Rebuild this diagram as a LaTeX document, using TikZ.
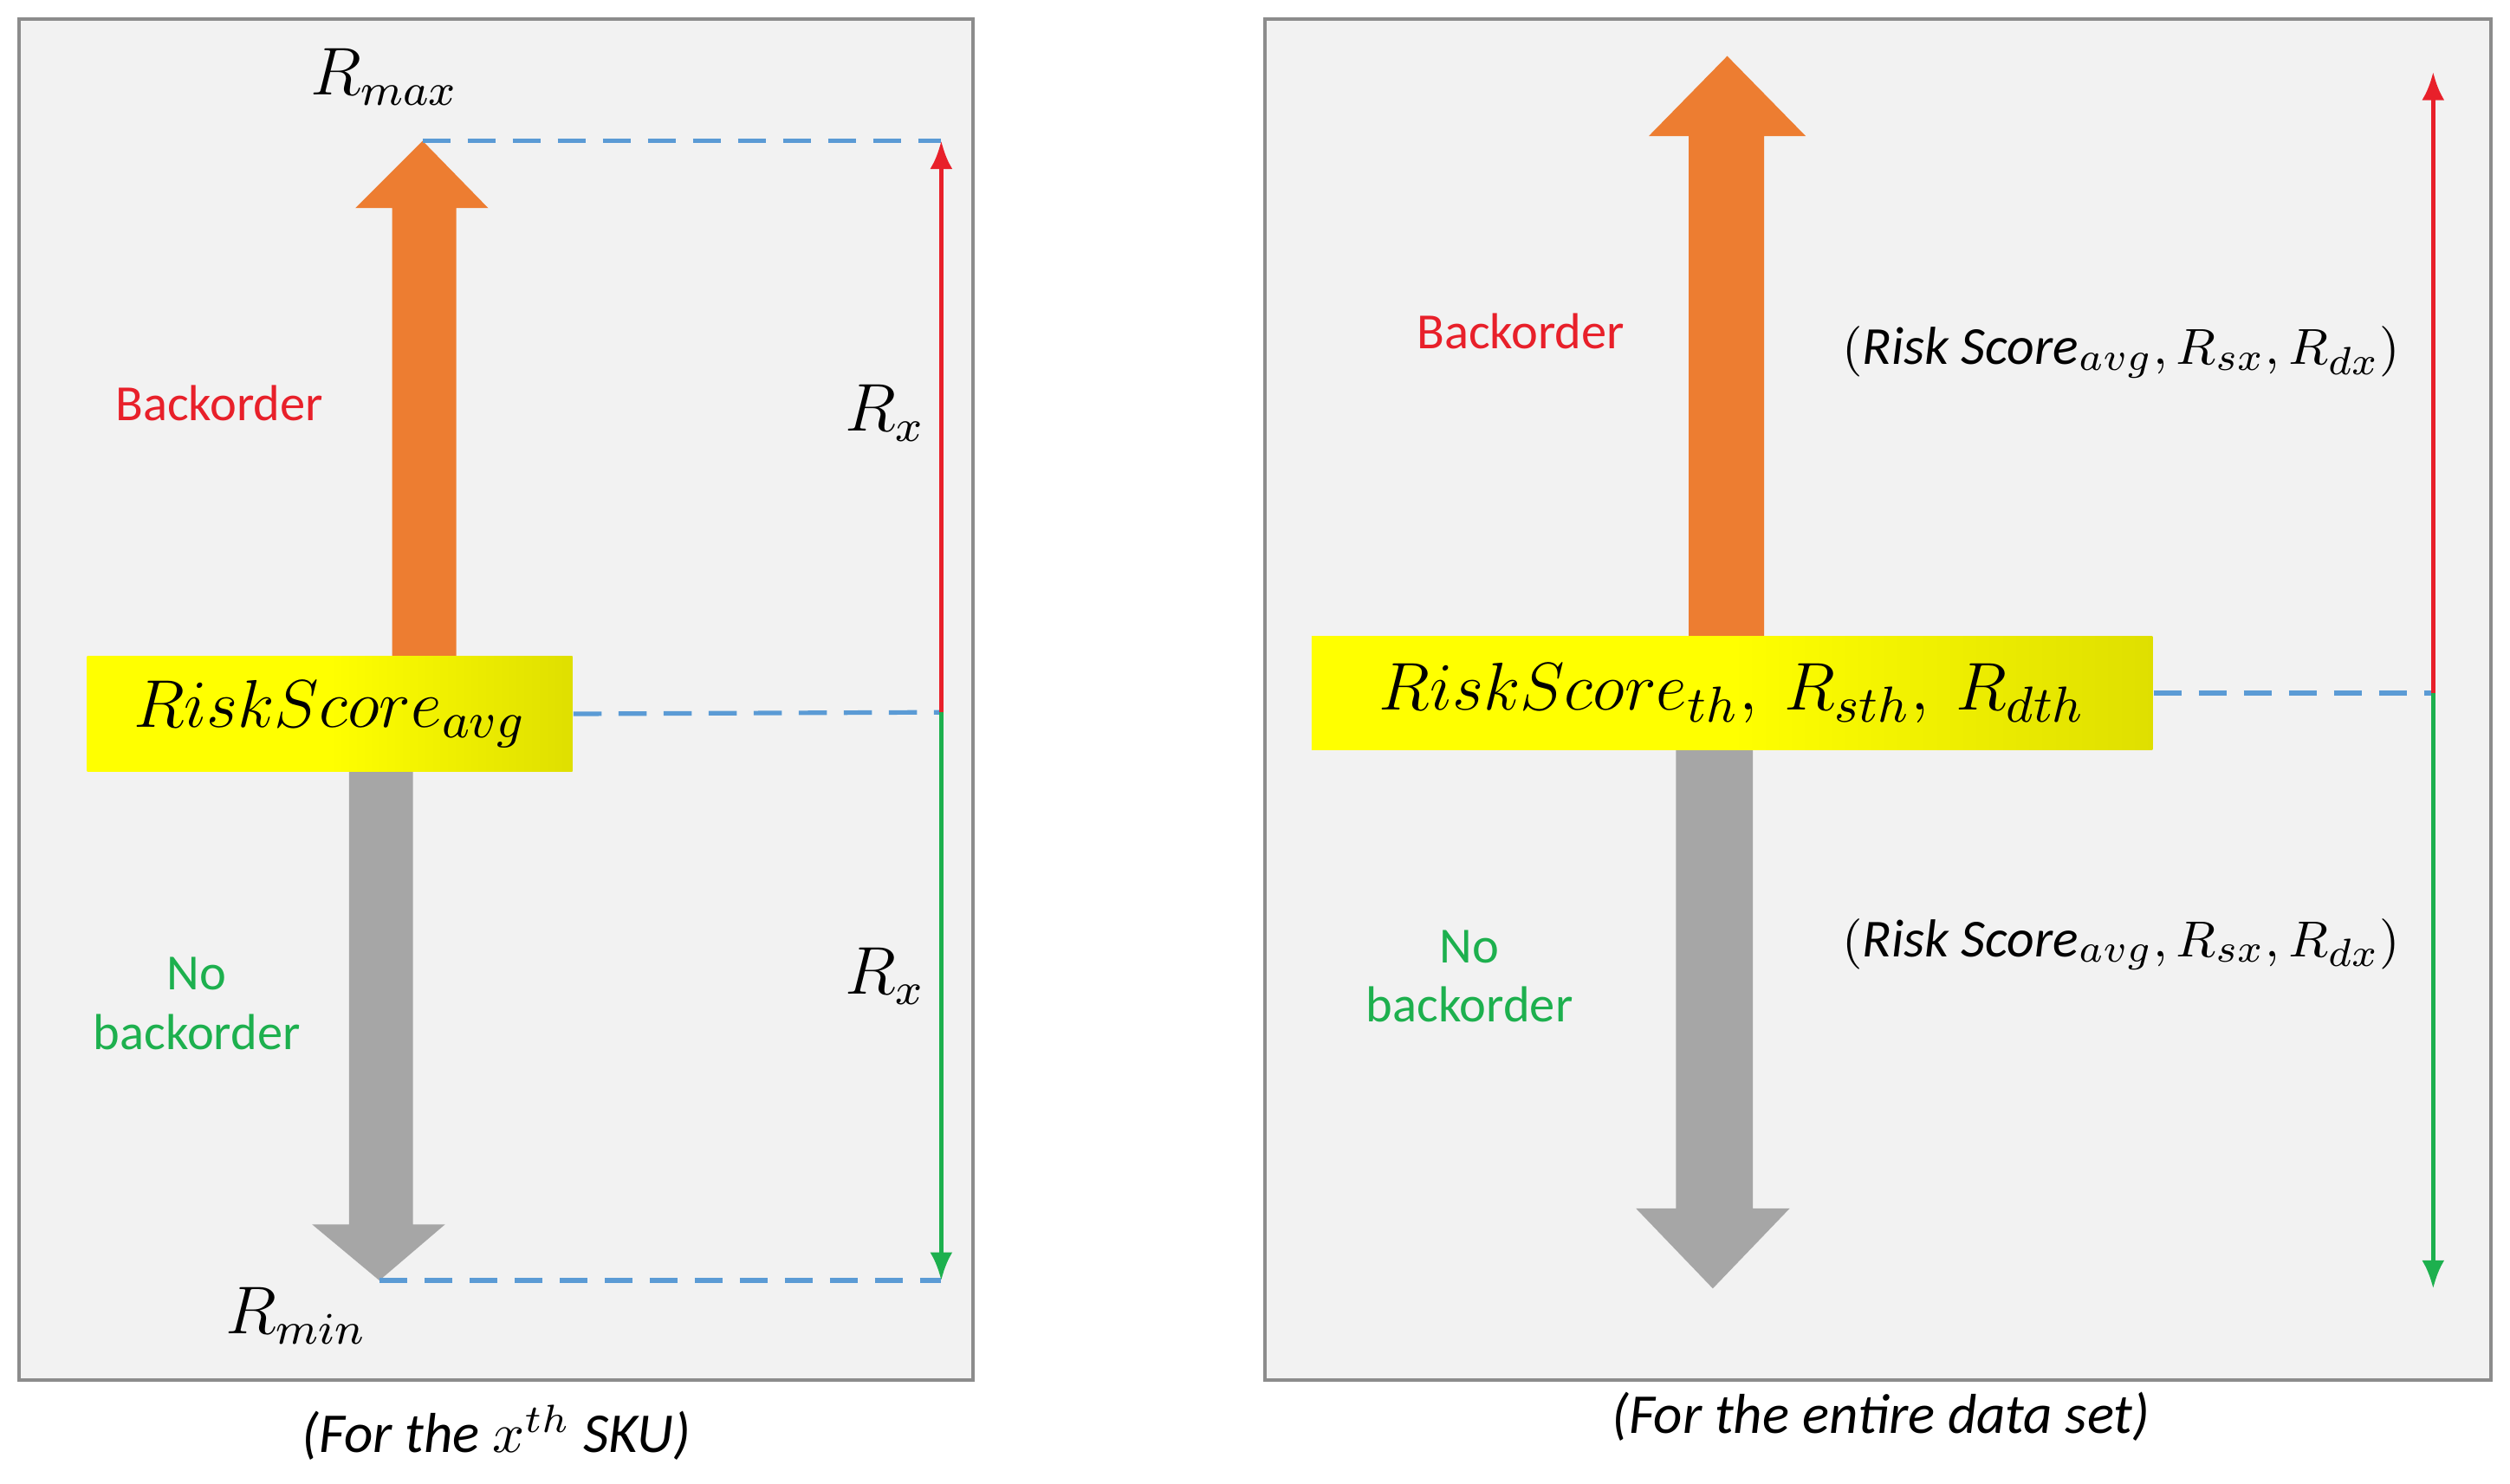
\documentclass[tikz,border=0pt]{standalone}
\usepackage{fontspec}
\setmainfont{Carlito}
\usetikzlibrary{positioning,arrows.meta}
\definecolor{orng}{HTML}{ED7D31}
\definecolor{gry}{HTML}{A6A6A6}
\definecolor{dashblue}{HTML}{5B9BD5}
\definecolor{redln}{HTML}{E8202A}
\definecolor{grnln}{HTML}{1DB04E}
\tikzset{
	panel/.style={draw=black!45, fill=black!5, line width=.06em},
	dashln/.style={dashed, dashblue, line width=.08em, dash pattern=on 5pt off 3pt},
	scorebox/.style={left color=yellow, right color=yellow!75!olive, middle color=yellow, inner sep=0pt, font=\fontsize{12.5}{15}\selectfont},
	lbl/.style={font=\fontsize{9}{10.5}\selectfont, align=center},
	mlbl/.style={font=\fontsize{12}{14}\selectfont},
}
\begin{document}
\begin{tikzpicture}[x=0.01cm, y=-0.01cm]
			\useasboundingbox (0,0) rectangle (1568,927);
			% panels
			\draw[panel] (12,12) rectangle (608,862);
			\draw[panel] (790,12) rectangle (1556,862);
			\node[lbl, font=\fontsize{10}{12}\selectfont\itshape] (capL) at (310,895) {(For the $x^{th}$ SKU)};
			\node[lbl, font=\fontsize{10}{12}\selectfont\itshape] (capR) at (1175,885) {(For the entire data set)};

			% left big arrows
			\fill[orng] (245,410) -- (245,130) -- (222,130) -- (264,88) -- (305,130) -- (285,130) -- (285,410) -- cycle;
			\fill[gry] (218,480) -- (218,765) -- (195,765) -- (237,800) -- (278,765) -- (258,765) -- (258,480) -- cycle;
			\node[scorebox, minimum width=3.03cm, minimum height=0.72cm] (boxL) at (206,446) {$RiskScore_{avg}$};
			\node[mlbl] (rmax) at (240,48) {$R_{max}$};
			\node[mlbl] (rmin) at (185,822) {$R_{min}$};
			\node[lbl, text=redln] (boL) at (137,252) {Backorder};
			\node[lbl, text=grnln] (nboL) at (123,627) {No\\backorder};
			\coordinate (topL) at (588,88);
			\coordinate (midL) at (588,445);
			\coordinate (botL) at (588,800);
			\draw[dashln] (264,88) -- (topL);
			\draw[dashln] (boxL.east) -- (midL);
			\draw[dashln] (237,800) -- (botL);
			\draw[-{Latex[length=5pt,width=4pt]}, redln, line width=.08em] (midL) -- (topL);
			\draw[-{Latex[length=5pt,width=4pt]}, grnln, line width=.08em] (midL) -- (botL);
			\node[mlbl] (rxa) at (553,258) {$R_x$};
			\node[mlbl] (rxb) at (553,610) {$R_x$};

			% right big arrows
			\fill[orng] (1055,400) -- (1055,85) -- (1030,85) -- (1079,35) -- (1128,85) -- (1102,85) -- (1102,400) -- cycle;
			\fill[gry] (1047,465) -- (1047,755) -- (1022,755) -- (1070,805) -- (1118,755) -- (1095,755) -- (1095,465) -- cycle;
			\node[scorebox, minimum width=5.25cm, minimum height=0.71cm] (boxR) at (1082,433) {$RiskScore_{th},\ R_{sth},\ R_{dth}$};
			\node[lbl, text=redln] (boR) at (950,207) {Backorder};
			\node[lbl, text=grnln] (nboR) at (918,610) {No\\backorder};
			\node[font=\fontsize{9.5}{12}\selectfont] (tupA) at (1325,220) {$(\mathit{Risk\ Score}_{avg}, R_{sx}, R_{dx})$};
			\node[font=\fontsize{9.5}{12}\selectfont] (tupB) at (1325,590) {$(\mathit{Risk\ Score}_{avg}, R_{sx}, R_{dx})$};
			\coordinate (topR) at (1520,45);
			\coordinate (midR) at (1520,433);
			\coordinate (botR) at (1520,805);
			\draw[dashln] (boxR.east) -- (midR);
			\draw[-{Latex[length=5pt,width=4pt]}, redln, line width=.08em] (midR) -- (topR);
			\draw[-{Latex[length=5pt,width=4pt]}, grnln, line width=.08em] (midR) -- (botR);
		\end{tikzpicture}
\end{document}
